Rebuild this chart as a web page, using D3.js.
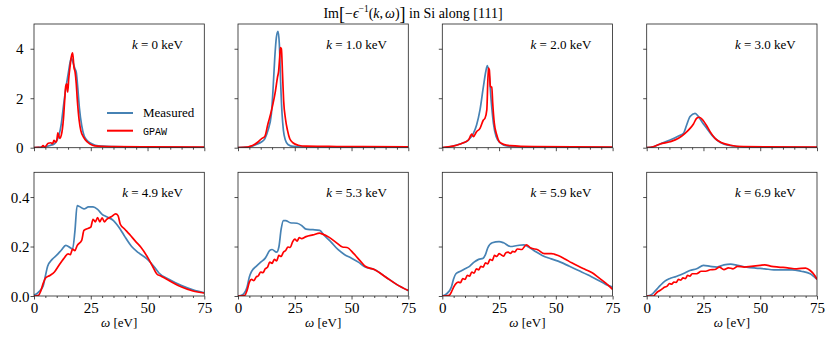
<!DOCTYPE html>
<html>
<head>
<meta charset="utf-8">
<script src="https://cdn.jsdelivr.net/npm/d3@7"></script>
<style>
  body { margin: 0; background: #fff; }
  svg { display: block; }
</style>
</head>
<body>
<div id="chart"></div>
<script>
// momentum transfer labels (keV)
const K_LABELS = ["0", "1.0", "2.0", "3.0", "4.9", "5.3", "5.9", "6.9"];

// [omega (eV), Im(-1/eps)] pairs
const k00_measured = [[0,0],[3,0.02],[5,0.05],[7,0.09],[9,0.16],[10,0.28],[11,0.5],[12,0.95],[13,1.7],[14,2.4],[15,2.95],[16,3.5],[16.5,3.63],[17,3.5],[18,3.2],[18.6,3.05],[19.3,2.4],[20,1.6],[21,0.9],[22,0.5],[23,0.33],[25,0.18],[27,0.1],[30,0.06],[40,0.03],[55,0.02],[75,0.01]];
const k00_gpaw = [[0,0],[2,0.01],[3,0],[4,0.08],[4.8,0.02],[5.5,0.1],[6.3,0.18],[7.4,0.2],[8.2,0.16],[8.8,0.3],[9.5,0.22],[10,0.28],[10.5,0.6],[11,0.45],[11.5,0.38],[12,0.5],[12.5,0.75],[13,1.2],[13.5,1.9],[14,2.5],[14.4,2.58],[14.85,2.25],[15.3,2.8],[15.9,3.3],[16.5,3.7],[17,3.83],[17.6,3.25],[18.1,3.05],[18.6,2.6],[19.1,1.9],[19.9,1.1],[20.6,0.7],[21.8,0.43],[23.5,0.23],[25.7,0.1],[28,0.06],[35,0.04],[50,0.03],[75,0.02]];

const k10_measured = [[0,0],[4,0.02],[5.9,0.05],[8,0.13],[10.3,0.23],[11.8,0.36],[13.2,0.7],[14.7,1.37],[15.4,2.3],[16.2,3.65],[16.9,4.46],[17.6,4.7],[18.2,4.2],[18.8,2.58],[19.4,1.37],[20,0.7],[20.9,0.3],[22,0.13],[24.3,0.05],[30,0.03],[50,0.02],[75,0.01]];
const k10_gpaw = [[0,0],[4,0.02],[5,0.05],[6.6,0.1],[8.8,0.23],[10.3,0.36],[11.8,0.45],[13.2,0.97],[14.4,1.37],[15.4,1.77],[16.5,2.3],[17.4,2.85],[17.9,3.1],[18.4,3.7],[18.7,4.05],[19.1,4.0],[19.6,3.0],[20.1,1.9],[20.9,1.17],[21.8,0.7],[22.8,0.36],[24.3,0.19],[26.5,0.1],[30,0.06],[40,0.05],[55,0.04],[75,0.03]];

const k20_measured = [[0,0],[2,0.01],[3.4,0.04],[7.8,0.15],[11.5,0.31],[13.7,0.58],[15.1,0.92],[16.6,1.53],[18.1,2.47],[19.2,3.1],[19.85,3.32],[20.7,2.88],[21.5,1.93],[22.5,0.99],[23.7,0.45],[25.4,0.2],[28.4,0.07],[35,0.03],[75,0.01]];
const k20_gpaw = [[0,0],[2.6,0.03],[6.3,0.1],[9.3,0.2],[11.5,0.31],[13,0.55],[13.7,0.45],[15.1,0.65],[16.6,0.78],[18.1,1.12],[18.8,1.19],[19.6,1.53],[20.3,3.22],[20.7,3.15],[21.2,2.47],[21.8,2.45],[22.2,1.8],[22.9,0.99],[24,0.51],[25.1,0.24],[26.9,0.14],[29.9,0.08],[40,0.04],[75,0.02]];

const k30_measured = [[0,0],[2.9,0.04],[5.9,0.15],[10.3,0.31],[14,0.47],[16.2,0.58],[17.6,0.92],[19.1,1.26],[21.3,1.39],[22.8,1.26],[24.3,1.05],[26.5,0.78],[28.7,0.51],[30.9,0.31],[33.8,0.15],[38.2,0.07],[42.6,0.03],[75,0.01]];
const k30_gpaw = [[0,0],[2.9,0.04],[5.9,0.15],[10.3,0.24],[14,0.38],[16.9,0.58],[19.1,0.78],[20.6,0.96],[22,1.19],[23.2,1.23],[24.7,1.12],[26.2,0.92],[27.9,0.65],[30.1,0.38],[33.1,0.2],[36.8,0.1],[42.6,0.04],[75,0.02]];

const k49_measured = [[0,0.003],[2,0.016],[4,0.04],[5,0.08],[6,0.12],[8,0.148],[10,0.165],[12,0.185],[14,0.205],[16,0.195],[17,0.19],[18,0.26],[19,0.365],[20,0.362],[22,0.352],[24,0.36],[26,0.36],[28,0.35],[30,0.33],[32,0.32],[35,0.305],[38,0.27],[40,0.24],[43,0.2],[46,0.175],[50,0.148],[53,0.117],[55,0.093],[60,0.065],[65,0.042],[70,0.025],[75,0.013]];
const k49_gpaw = [[0,0],[2,0.003],[3,0.02],[4,0.05],[5,0.072],[7,0.083],[9,0.097],[11,0.124],[13,0.15],[15,0.17],[16,0.167],[17,0.19],[18,0.183],[19,0.204],[21,0.225],[22,0.265],[24,0.274],[25,0.278],[26,0.31],[27,0.3],[28,0.317],[29,0.3],[30,0.316],[31,0.3],[32,0.31],[34,0.32],[36,0.332],[37,0.325],[38,0.29],[40,0.27],[42,0.25],[45,0.218],[47,0.198],[50,0.157],[52,0.124],[54,0.09],[56,0.08],[60,0.06],[65,0.036],[70,0.02],[75,0.012]];

const k53_measured = [[0,0],[2,0.005],[4,0.036],[5,0.077],[6,0.1],[8,0.12],[10,0.137],[12,0.153],[14,0.184],[15,0.188],[17,0.177],[18,0.198],[19,0.27],[20,0.305],[21,0.305],[23,0.296],[26,0.294],[28,0.285],[30,0.27],[33,0.268],[36,0.265],[38,0.245],[41,0.218],[44,0.188],[47,0.167],[50,0.153],[53,0.137],[56,0.117],[60,0.107],[65,0.077],[70,0.046],[75,0.022]];
const k53_gpaw = [[0,0],[3,0.003],[4,0.023],[5,0.056],[6,0.067],[7,0.062],[8,0.077],[9,0.082],[10,0.097],[11,0.094],[12,0.11],[13,0.116],[14,0.137],[15,0.132],[16,0.148],[17,0.142],[18,0.164],[19,0.16],[20,0.177],[21,0.184],[22,0.198],[23,0.196],[24,0.218],[25,0.23],[26,0.222],[27,0.236],[28,0.232],[30,0.24],[33,0.247],[36,0.254],[37,0.251],[40,0.238],[43,0.218],[46,0.198],[48,0.196],[51,0.171],[54,0.14],[56,0.12],[60,0.107],[65,0.077],[70,0.046],[75,0.022]];

const k59_measured = [[0,0],[2,0.01],[4,0.036],[5,0.07],[6,0.09],[8,0.1],[10,0.11],[12,0.12],[14,0.137],[16,0.148],[18,0.153],[19,0.167],[20,0.194],[22,0.215],[25,0.22],[27,0.215],[30,0.2],[33,0.204],[36,0.207],[38,0.198],[41,0.18],[44,0.164],[48,0.15],[52,0.137],[56,0.12],[60,0.103],[64,0.086],[68,0.067],[72,0.047],[75,0.036]];
const k59_gpaw = [[0,0],[3,0.003],[4,0.016],[5,0.036],[6,0.05],[7,0.056],[8,0.054],[9,0.07],[10,0.067],[11,0.083],[12,0.08],[13,0.097],[14,0.092],[15,0.11],[16,0.106],[17,0.12],[18,0.117],[19,0.134],[20,0.13],[21,0.148],[22,0.144],[23,0.164],[24,0.16],[25,0.171],[26,0.166],[27,0.161],[28,0.175],[29,0.177],[30,0.172],[31,0.18],[32,0.178],[33,0.19],[35,0.188],[37,0.207],[39,0.194],[42,0.187],[45,0.171],[48,0.171],[51,0.164],[54,0.15],[57,0.134],[60,0.12],[63,0.107],[66,0.094],[69,0.073],[72,0.052],[75,0.027]];

const k69_measured = [[0,0],[2,0.005],[4,0.023],[6,0.043],[8,0.06],[10,0.07],[13,0.079],[15,0.086],[17,0.094],[19,0.103],[22,0.11],[25,0.124],[28,0.12],[31,0.117],[34,0.126],[37,0.129],[40,0.124],[44,0.117],[48,0.113],[52,0.11],[56,0.106],[60,0.106],[64,0.106],[68,0.1],[72,0.09],[75,0.067]];
const k69_gpaw = [[0,0],[3,0],[4,0.01],[5,0.018],[6,0.023],[7,0.03],[8,0.036],[9,0.04],[10,0.05],[11,0.048],[12,0.056],[13,0.055],[14,0.067],[15,0.064],[16,0.073],[17,0.07],[18,0.083],[19,0.08],[20,0.09],[22,0.09],[24,0.1],[26,0.1],[28,0.106],[30,0.107],[32,0.117],[34,0.107],[36,0.114],[38,0.11],[40,0.12],[43,0.117],[46,0.12],[50,0.124],[52,0.126],[55,0.12],[58,0.117],[62,0.114],[66,0.11],[70,0.113],[72,0.103],[74,0.083],[75,0.067]];

const MEASURED = [k00_measured, k10_measured, k20_measured, k30_measured, k49_measured, k53_measured, k59_measured, k69_measured];
const GPAW = [k00_gpaw, k10_gpaw, k20_gpaw, k30_gpaw, k49_gpaw, k53_gpaw, k59_gpaw, k69_gpaw];

const X_TICKS = [0, 25, 50, 75];
const X_MINOR = d3.range(0, 76, 5).filter(v => v % 25 !== 0);
const Y_TICKS_TOP = [0, 2, 4];
const Y_TICKS_BOTTOM = [0, 0.2, 0.4];

const SERIF = "'Liberation Serif', 'Times New Roman', serif";
const MONO = "'Liberation Mono', 'DejaVu Sans Mono', monospace";

const width = 830, height = 338;
const colX = [34, 238, 442.3, 646.7];
const panelW = 170.3;
const rows = [
  { top: 24, bottom: 147.7, ymax: 5, ticks: Y_TICKS_TOP, fmt: d3.format("d"), labelX: 23.5 },
  { top: 172.3, bottom: 296, ymax: 0.5, ticks: Y_TICKS_BOTTOM, fmt: d3.format(".1f"), labelX: 29.5 }
];
const BLUE = "#4682b4", RED = "#ff0000";

const svg = d3.select("#chart").append("svg")
  .attr("width", width)
  .attr("height", height)
  .style("font-family", SERIF);

// ----- title -----
const title = svg.append("text")
  .attr("x", 413)
  .attr("y", 18)
  .attr("text-anchor", "middle")
  .style("font-family", SERIF)
  .attr("font-size", 14);
title.append("tspan").text("Im");
title.append("tspan").attr("font-size", 18).attr("dy", 1.5).text("[");
title.append("tspan").attr("dy", -1.5).text("−");
title.append("tspan").attr("font-style", "italic").text("ϵ");
title.append("tspan").attr("font-size", 9.5).attr("dy", -6).text("−1");
title.append("tspan").attr("dy", 6).text("(");
title.append("tspan").attr("font-style", "italic").text("k");
title.append("tspan").text(",");
title.append("tspan").attr("font-style", "italic").attr("dx", 2).text("ω");
title.append("tspan").text(")");
title.append("tspan").attr("font-size", 18).attr("dy", 1.5).text("]");
title.append("tspan").attr("dy", -1.5).text(" in Si along [111]");

const line = d3.line().curve(d3.curveMonotoneX);

MEASURED.forEach((measured, i) => {
  const r = rows[Math.floor(i / 4)];
  const col = i % 4;
  const x0 = colX[col];
  const isBottom = i >= 4;

  const x = d3.scaleLinear().domain([0, 75]).range([x0, x0 + panelW]);
  const y = d3.scaleLinear().domain([0, r.ymax]).range([r.bottom, r.top]);

  const g = svg.append("g");
  const clipId = "clip" + i;
  g.append("clipPath").attr("id", clipId)
    .append("rect")
    .attr("x", x0).attr("y", r.top)
    .attr("width", panelW).attr("height", r.bottom - r.top);

  line.x(d => x(d[0])).y(d => y(d[1]));

  const plot = g.append("g").attr("clip-path", `url(#${clipId})`);
  plot.append("path")
    .datum(measured)
    .attr("fill", "none")
    .attr("stroke", BLUE)
    .attr("stroke-width", 1.7)
    .attr("stroke-linejoin", "round")
    .attr("d", line);
  plot.append("path")
    .datum(GPAW[i])
    .attr("fill", "none")
    .attr("stroke", RED)
    .attr("stroke-width", 1.7)
    .attr("stroke-linejoin", "round")
    .attr("d", line);

  // x axis: major + minor ticks
  g.append("g")
    .attr("transform", `translate(0,${r.bottom})`)
    .call(d3.axisBottom(x).tickValues(X_TICKS).tickSize(3.5).tickPadding(3)
      .tickFormat(isBottom ? d3.format("d") : () => ""));
  g.append("g")
    .attr("transform", `translate(0,${r.bottom})`)
    .call(d3.axisBottom(x).tickValues(X_MINOR).tickSize(2).tickFormat(() => ""));

  const yAxis = g.append("g")
    .attr("transform", `translate(${x0},0)`)
    .call(d3.axisLeft(y).tickValues(r.ticks).tickSize(3.5).tickPadding(4)
      .tickFormat(col === 0 ? r.fmt : () => ""));

  g.selectAll(".domain").remove();
  g.selectAll(".tick line").attr("stroke", "#222").attr("stroke-width", 0.8);
  g.selectAll(".tick text")
    .attr("fill", "#000")
    .style("font-family", SERIF)
    .style("font-size", "15px");
  yAxis.selectAll(".tick text").attr("x", r.labelX - x0).attr("dy", "0.35em");

  // frame
  g.append("rect")
    .attr("x", x0).attr("y", r.top)
    .attr("width", panelW).attr("height", r.bottom - r.top)
    .attr("fill", "none")
    .attr("stroke", "#222")
    .attr("stroke-width", 0.8);

  // k annotation
  const ann = g.append("text")
    .attr("x", x0 + 149)
    .attr("y", r.top + 25)
    .attr("text-anchor", "end")
    .style("font-family", SERIF)
    .attr("font-size", 13);
  ann.append("tspan").attr("font-style", "italic").text("k");
  ann.append("tspan").text(` = ${K_LABELS[i]} keV`);

  if (isBottom) {
    const xl = g.append("text")
      .attr("x", x0 + panelW / 2)
      .attr("y", 327)
      .attr("text-anchor", "middle")
      .style("font-family", SERIF)
      .attr("font-size", 13);
    xl.append("tspan").attr("font-style", "italic").text("ω");
    xl.append("tspan").text(" [eV]");
  }
});

// ----- legend (first panel) -----
const legendItems = [
  { name: "Measured", color: BLUE, mono: false, y: 113 },
  { name: "GPAW", color: RED, mono: true, y: 130.7 }
];
const legend = svg.append("g");
legendItems.forEach(d => {
  legend.append("line")
    .attr("x1", 107).attr("x2", 133)
    .attr("y1", d.y).attr("y2", d.y)
    .attr("stroke", d.color)
    .attr("stroke-width", 2);
  legend.append("text")
    .attr("x", 143)
    .attr("y", d.y + 4)
    .attr("font-size", d.mono ? 10 : 13)
    .style("font-family", d.mono ? MONO : SERIF)
    .text(d.name);
});
</script>
</body>
</html>
